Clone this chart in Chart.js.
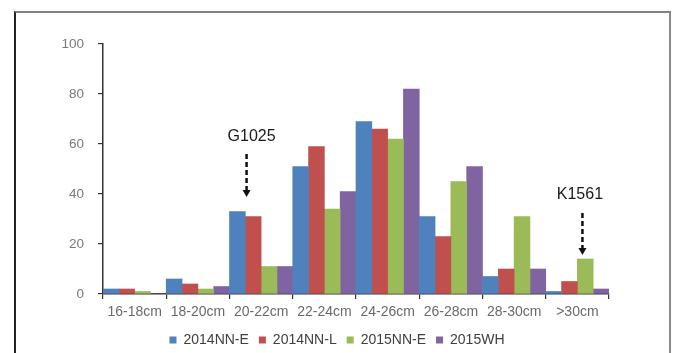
<!DOCTYPE html>
<html>
<head>
<meta charset="utf-8">
<script src="https://cdn.jsdelivr.net/npm/chart.js@4.4.0/dist/chart.umd.min.js"></script>
<style>
    html, body { margin: 0; padding: 0; background: #fff; overflow: hidden; }
    #wrap { position: relative; width: 674px; height: 357px; }
    #frame { position: absolute; left: 14px; top: 11px; width: 653px; height: 360px;
             border-left: 2px solid #222; border-top: 2px solid #808080; border-right: 2px solid #8a8a8a; }
</style>
</head>
<body>
<div id="wrap">
    <canvas id="chart" width="674" height="357"></canvas>
    <div id="frame"></div>
</div>
<script>
var categories = ['16-18cm', '18-20cm', '20-22cm', '22-24cm', '24-26cm', '26-28cm', '28-30cm', '>30cm'];
var seriesNames = ['2014NN-E', '2014NN-L', '2015NN-E', '2015WH'];
var nn2014E = [2, 6, 33, 51, 69, 31, 7, 1];
var nn2014L = [2, 4, 31, 59, 66, 23, 10, 5];
var nn2015E = [1, 2, 11, 34, 62, 45, 31, 14];
var wh2015 = [0, 3, 11, 41, 82, 51, 10, 2];
var yTicks = [0, 20, 40, 60, 80, 100];

// arrow notes: label, category, text value, arrow start/end values
var noteLabels = ['G1025', 'K1561'];
var noteCategory = [2, 7];
var noteTextValue = [63, 39.6];
var noteArrowFrom = [56, 32.4];
var noteArrowTo = [38.8, 15.6];

var colors = ['#4F81BD', '#C0504D', '#9BBB59', '#8064A2'];
var font = "'Liberation Sans', Arial, sans-serif";

var notesPlugin = {
    id: 'notes',
    afterDatasetsDraw: function(chart) {
        var ctx = chart.ctx;
        var x = chart.scales.x, y = chart.scales.y;
        var step = x.getPixelForValue(1) - x.getPixelForValue(0);
        var textShift = [-0.15, 0.04];
        var arrowShift = [-0.23, 0.08];
        ctx.save();
        for (var i = 0; i < noteLabels.length; i++) {
            var cx = x.getPixelForValue(noteCategory[i]);
            var tx = cx + textShift[i] * step;
            var ax = cx + arrowShift[i] * step;
            ctx.fillStyle = '#1a1a1a';
            ctx.font = '16px ' + font;
            ctx.textAlign = 'center';
            ctx.textBaseline = 'middle';
            ctx.fillText(noteLabels[i], tx, y.getPixelForValue(noteTextValue[i]));

            var y0 = y.getPixelForValue(noteArrowFrom[i]);
            var y1 = y.getPixelForValue(noteArrowTo[i]);
            ctx.strokeStyle = '#111';
            ctx.lineWidth = 2.5;
            ctx.setLineDash([5, 3]);
            ctx.beginPath();
            ctx.moveTo(ax, y0);
            ctx.lineTo(ax, y1 - 6);
            ctx.stroke();
            ctx.setLineDash([]);
            ctx.fillStyle = '#111';
            ctx.beginPath();
            ctx.moveTo(ax - 4, y1 - 7);
            ctx.lineTo(ax + 4, y1 - 7);
            ctx.lineTo(ax, y1);
            ctx.closePath();
            ctx.fill();
        }
        ctx.restore();
    }
};

var seriesData = [nn2014E, nn2014L, nn2015E, wh2015];
var datasets = seriesNames.map(function(name, i) {
    return {
        label: name,
        data: seriesData[i],
        backgroundColor: colors[i],
        borderWidth: 0,
        categoryPercentage: 1,
        barPercentage: 1
    };
});

new Chart(document.getElementById('chart'), {
    type: 'bar',
    data: { labels: categories, datasets: datasets },
    plugins: [notesPlugin],
    options: {
        responsive: false,
        animation: false,
        layout: { padding: { top: 44, left: 0, right: 0, bottom: 0 } },
        plugins: {
            tooltip: { enabled: false },
            legend: {
                position: 'bottom',
                labels: {
                    boxWidth: 7,
                    boxHeight: 7,
                    padding: 10,
                    color: '#404040',
                    font: { size: 14, family: font }
                }
            }
        },
        scales: {
            x: {
                grid: { drawOnChartArea: false, tickLength: 5, color: '#333', lineWidth: 1.2 },
                border: { color: '#333', width: 1.5 },
                ticks: { color: '#6a6a6a', padding: 5, maxRotation: 0, font: { size: 14, family: font } },
                afterFit: function(s) { s.height = 29; }
            },
            y: {
                min: 0,
                max: 100,
                afterBuildTicks: function(s) { s.ticks = yTicks.map(function(v) { return { value: v }; }); },
                grid: { drawOnChartArea: false, tickLength: 5, color: '#333', lineWidth: 1.2 },
                border: { color: '#333', width: 1.5 },
                ticks: { color: '#7a7a7a', padding: 14, font: { size: 13.5, family: font } },
                afterFit: function(s) { s.width = 103; }
            },
            pad: {
                position: 'right',
                display: true,
                grid: { display: false },
                border: { display: false },
                ticks: { display: false },
                afterFit: function(s) { s.width = 65; }
            }
        }
    }
});
</script>
</body>
</html>
